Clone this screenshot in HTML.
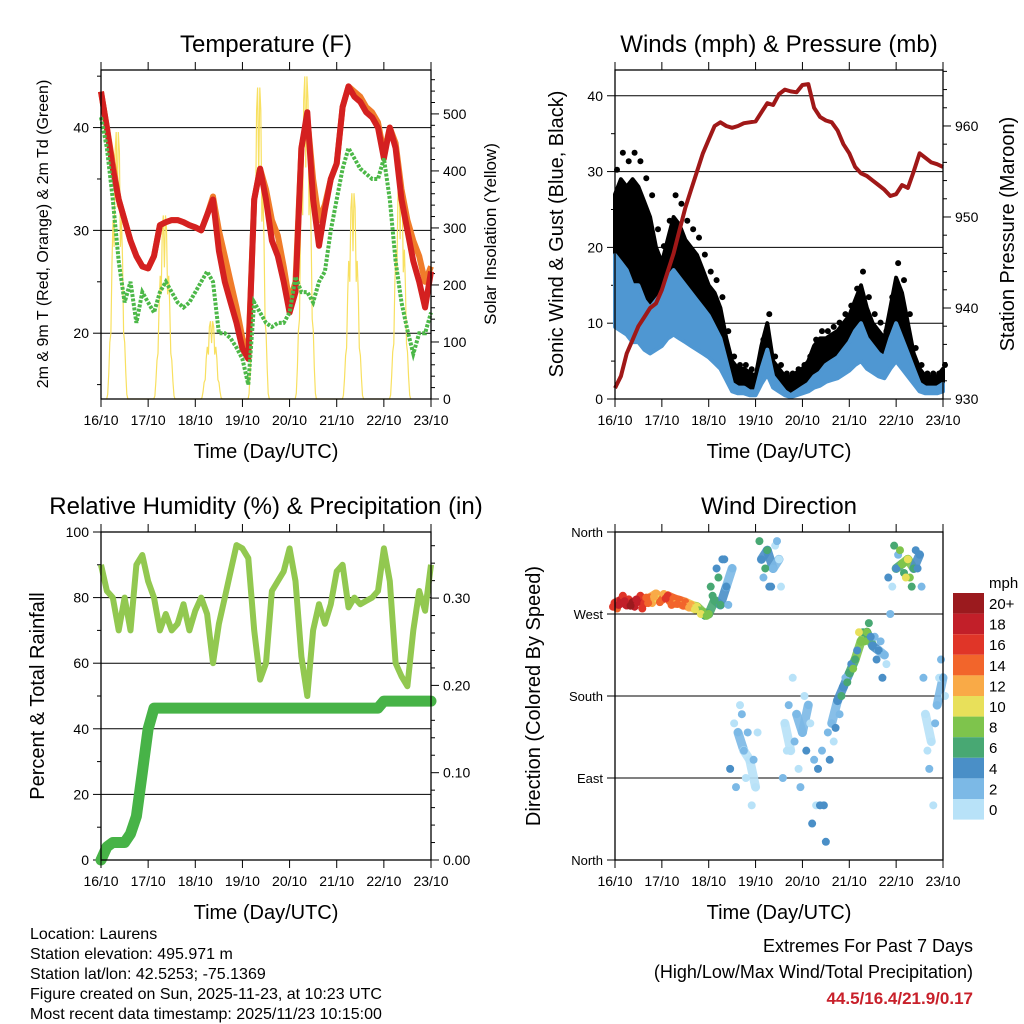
<!DOCTYPE html>
<html><head><meta charset="utf-8"><style>
html,body{margin:0;padding:0;background:#fff;}
svg{display:block;font-family:"Liberation Sans",sans-serif;}
</style></head><body>
<svg id="fig" width="1024" height="1024" viewBox="0 0 1024 1024" xmlns="http://www.w3.org/2000/svg">
<rect width="1024" height="1024" fill="#fff"/>
<g id="layer"></g>
<g font-size="16" fill="#000">
<text x="30" y="939">Location: Laurens</text>
<text x="30" y="959">Station elevation: 495.971 m</text>
<text x="30" y="979">Station lat/lon: 42.5253; -75.1369</text>
<text x="30" y="999">Figure created on Sun, 2025-11-23, at 10:23 UTC</text>
<text x="30" y="1019">Most recent data timestamp: 2025/11/23 10:15:00</text>
</g>
<g text-anchor="end">
<text x="973" y="952" font-size="18">Extremes For Past 7 Days</text>
<text x="973" y="978" font-size="18">(High/Low/Max Wind/Total Precipitation)</text>
<text x="973" y="1004" font-size="17" font-weight="bold" fill="#c8202a">44.5/16.4/21.9/0.17</text>
</g>
</svg>
<script>
// ---- data (3-hourly from 16/10 00 UTC to 23/10 00 UTC) ----
const dayLabels = ["16/10","17/10","18/10","19/10","20/10","21/10","22/10","23/10"];
const temp2m = [43.5,40,36,33,31,29,27.5,26.5,26.3,27.5,30.5,30.8,31,31,30.8,30.5,30.3,30,31.5,33,28,25,23,21,18.5,17.5,33,36,33,29,27.5,25,22,24,38,41.5,33,28.5,32,35,36.5,42,44,43,42.5,41.5,41,40,37,40,38,33,30,27,25,22.5,26];
const temp9m = [43.5,40,36.5,33,31,29,27.5,26.5,26.3,27.5,30.5,30.8,31,31,30.8,30.5,30.3,30,31.5,33.3,30,27.5,25,22.5,19.5,18,33,36,34,31,29.5,26.5,23,25,38,41,35,31,32.5,35,36.5,42,44,43.5,43,42,41.5,40.5,37.5,40,38.5,34,31,29,27.5,25,26.5];
const dewpoint = [41,38,33,27,23,25,21,24,23,22,24,25,24,23,22.5,23,24,25,26,25,20,20,19.5,18.6,17.5,15,23,22,21,20.6,21,21,22,25.5,24,24,23,25,26,30,33,36,38,37,36,35.5,35,35,37,33,27,23,20.3,18,20,20,22];
const solarPeaks = [480,330,140,560,580,370,400];
const gust = [27,29,28,29,28,26,24,20,18,21,24,23,21,20,19,17,15,14,12,8,5,4,4,3.5,3,7,10,5,4,3,3,3.5,4,5,7,8,8,8.5,9,10,11,13,15,12,10,9,8,12,16,14,10,6,4,3,3,3,4];
const wind = [19,18,17,15,15,13,12,13,14,16,17,16,15,14,13,12,11,9.5,8,5,2,1.5,1.5,1,1,4,6.5,3,2,1,0.5,1,1.5,2,3,3.5,4.5,5,5.5,6.5,7.5,9,10,8,7,6,5.5,8,10,8,6,4,2,1.5,1.5,1.5,2];
const pressure = [931.2,932.5,935,936.5,938,939,940,940.5,942,944,946,948.5,951,953,955,957,958.5,960,960.4,960,959.8,960,960.3,960.4,960.5,961.5,962.5,962.3,963.5,964,963.8,963.7,964.5,964.6,962,961,960.6,960.4,959.5,958,957,955.5,954.8,954.5,954,953.5,953,952.3,952.5,953.5,953.2,955,957,956.5,956,955.8,955.5];
const rh = [90,82,80,70,80,70,90,93,85,80,70,75,70,72,78,70,76,80,75,60,72,80,88,96,95,92,70,55,60,82,85,88,95,85,62,50,70,78,72,78,88,90,77,80,78,79,80,82,95,85,60,56,53,70,82,76,90];
const precip = [0,0.015,0.02,0.02,0.02,0.03,0.05,0.1,0.15,0.174,0.174,0.174,0.174,0.174,0.174,0.174,0.174,0.174,0.174,0.174,0.174,0.174,0.174,0.174,0.174,0.174,0.174,0.174,0.174,0.174,0.174,0.174,0.174,0.174,0.174,0.174,0.174,0.174,0.174,0.174,0.174,0.174,0.174,0.174,0.174,0.174,0.174,0.174,0.182,0.182,0.182,0.182,0.182,0.182,0.182,0.182,0.182];
const windDir = [282,285,280,283,284,282,288,292,286,290,287,285,283,280,278,272,270,285,280,300,320,140,120,110,80,330,340,320,330,150,120,160,140,170,110,60,20,150,175,190,205,220,240,250,235,230,225,270,320,325,330,320,335,160,130,170,200];
const windDir2 = [276,290,286,278,290,288,282,286,292,284,281,280,278,276,274,268,300,320,330,280,150,170,90,60,140,310,300,345,300,120,200,100,180,150,60,120,140,130,160,200,215,230,250,260,245,240,215,300,335,315,310,340,300,120,60,200,180];
const windDir3 = [278,280,284,279,286,276,282,289,283,287,280,281,279,277,275,270,268,290,310,330,100,80,160,140,110,350,320,300,350,90,170,130,80,120,40,100,60,110,145,180,195,210,250,240,245,220,200,310,345,340,310,300,320,200,100,150,220];
const windSpd = [16,18,18,20,18,16,14,12,14,16,14,14,14,12,10,9,8,6,6,4,3,2,2,1,1,5,6,3,1,1,1,2,2,3,3,4,4,3,4,5,6,7,9,8,4,4,3,3,5,8,10,6,4,1,1,2,2];
const speedBins = ["20+","18","16","14","12","10","8","6","4","2","0"];
const binColors = ["#9b1a1e","#c21f29","#e03528","#f2652b","#f9aa47","#e8e05a","#7ec44c","#48a873","#4a8fc7","#7cb9e6","#b8e2f8"];

const NS="http://www.w3.org/2000/svg";
const layer=document.getElementById('layer');
function mk(tag,attrs,parent){const e=document.createElementNS(NS,tag);for(const k in attrs)e.setAttribute(k,attrs[k]);(parent||layer).appendChild(e);return e;}
function txt(x,y,s,size,anchor,parent,rot){const t=mk('text',{x:x,y:y,'font-size':size,'text-anchor':anchor||'middle'},parent);if(rot)t.setAttribute('transform','rotate(-90 '+x+' '+y+')');t.textContent=s;return t;}

function panel(name,L,T,R,B){
  const g=mk('g',{});
  
  
  return {g:g,L:L,T:T,R:R,B:B,x:i=>L+(R-L)*i/56};
}
function frame(p,title){
  mk('rect',{x:p.L,y:p.T,width:p.R-p.L,height:p.B-p.T,fill:'none',stroke:'#000','stroke-width':1.3},p.g);
  for(let d=0;d<8;d++){const x=p.L+(p.R-p.L)*d/7;
    mk('line',{x1:x,y1:p.B,x2:x,y2:p.B+8,stroke:'#000'},p.g);
    mk('line',{x1:x,y1:p.T,x2:x,y2:p.T-8,stroke:'#000'},p.g);
    const t=txt(x,p.B+26,dayLabels[d],14,'middle',p.g);
    
    
  }
  const xt=txt((p.L+p.R)/2,p.B+59,'Time (Day/UTC)',20,'middle',p.g);
  
  
  const tt=txt((p.L+p.R)/2,p.T-18,title,24,'middle',p.g);
  
  
}
function yAxis(p,lo,hi,major,minor,fmt,side,gridlines){
  const y=v=>p.B-(v-lo)/(hi-lo)*(p.B-p.T);
  const X= side==='L'?p.L:p.R, dir= side==='L'?-1:1;
  for(let v=Math.ceil(lo/minor-1e-9)*minor; v<=hi+1e-9; v+=minor){
    const isMaj=Math.abs(v/major-Math.round(v/major))<1e-6;
    const yy=y(v);
    mk('line',{x1:X,y1:yy,x2:X+dir*(isMaj?8:4),y2:yy,stroke:'#000'},p.g);
    if(isMaj){
      const t=txt(X+dir*12,yy+5,fmt(v),14,side==='L'?'end':'start',p.g);
      
      
      if(gridlines) mk('line',{x1:p.L,y1:yy,x2:p.R,y2:yy,stroke:'#000','stroke-width':1},p.g);
    }
  }
  return y;
}
function pts(p,arr,yf){return arr.map((v,i)=>p.x(i).toFixed(1)+','+yf(v).toFixed(1)).join(' ');}

// ---------- Panel 1: Temperature ----------
const p1=panel('temperature-panel',101,70,431,399);
const tY=yAxis(p1,13.6,45.6,10,5,v=>v,'L',true);
const sY=yAxis(p1,0,577,100,20,v=>v,'R',false);
let sp=[];
for(let d=0;d<solarPeaks.length;d++){
  const start=p1.L+(p1.R-p1.L)*(d+0.12)/7, w=(p1.R-p1.L)/7*0.45;
  sp.push(start.toFixed(1)+','+sY(0));
  for(let k=1;k<20;k++){const f=k/20;sp.push((start+w*f).toFixed(1)+','+sY(solarPeaks[d]*Math.pow(Math.sin(Math.PI*f),2)*(k%3===1?0.7:1)).toFixed(1));}
  sp.push((start+w).toFixed(1)+','+sY(0));
}
const sl=mk('polyline',{points:sp.join(' '),fill:'none',stroke:'#f8e060','stroke-width':1.2},p1.g);


const l9=mk('polyline',{points:pts(p1,temp9m,tY),fill:'none',stroke:'#f07c2a','stroke-width':6,'stroke-linejoin':'round'},p1.g);


const l2=mk('polyline',{points:pts(p1,temp2m,tY),fill:'none',stroke:'#d42020','stroke-width':6,'stroke-linejoin':'round'},p1.g);


const ld=mk('polyline',{points:pts(p1,dewpoint,tY),fill:'none',stroke:'#4cb848','stroke-width':4,'stroke-dasharray':'3 1.5'},p1.g);


frame(p1,'Temperature (F)');
let a=txt(48,234,'2m & 9m T (Red, Orange) & 2m Td (Green)',16,'middle',p1.g,true);


a=txt(496,234,'Solar Insolation (Yellow)',17,'middle',p1.g,true);



// ---------- Panel 2: Winds ----------
const p2=panel('winds-panel',615,70,943,399);
const wY=yAxis(p2,0,43.4,10,5,v=>v,'L',true);
const pY=yAxis(p2,930,966.15,10,2,v=>v,'R',false);
let band=pts(p2,gust,wY)+' '+wind.map((v,i)=>p2.x(i).toFixed(1)+','+wY(v).toFixed(1)).reverse().join(' ');
const gb=mk('polygon',{points:band,fill:'#000',stroke:'#000','stroke-width':4,'stroke-linejoin':'round'},p2.g);


gust.forEach((v,i)=>{const c=mk('circle',{cx:p2.x(i)+2,cy:wY(v*1.12),r:3,fill:'#000'},p2.g);
  
  });
let wb=pts(p2,wind,wY)+' '+wind.map((v,i)=>p2.x(i).toFixed(1)+','+wY(Math.max(0,v*0.5)).toFixed(1)).reverse().join(' ');
const bb=mk('polygon',{points:wb,fill:'#4f97d2',stroke:'#4f97d2','stroke-width':4,'stroke-linejoin':'round'},p2.g);


const pl=mk('polyline',{points:pts(p2,pressure,pY),fill:'none',stroke:'#a01818','stroke-width':4,'stroke-linejoin':'round'},p2.g);


frame(p2,'Winds (mph) & Pressure (mb)');
a=txt(563,234,'Sonic Wind & Gust (Blue, Black)',20,'middle',p2.g,true);


a=txt(1014,234,'Station Pressure (Maroon)',20,'middle',p2.g,true);



// ---------- Panel 3: RH & precip ----------
const p3=panel('humidity-panel',101,532,431,860);
const rY=yAxis(p3,0,100,20,10,v=>v,'L',true);
const qY=yAxis(p3,0,0.3757,0.1,0.02,v=>v.toFixed(2),'R',false);
const rl=mk('polyline',{points:pts(p3,rh,rY),fill:'none',stroke:'#92c850','stroke-width':6,'stroke-linejoin':'round'},p3.g);


const ql=mk('polyline',{points:pts(p3,precip,qY),fill:'none',stroke:'#47b347','stroke-width':11,'stroke-linejoin':'round','stroke-linecap':'round'},p3.g);


frame(p3,'Relative Humidity (%) & Precipitation (in)');
a=txt(44,696,'Percent & Total Rainfall',20,'middle',p3.g,true);



// ---------- Panel 4: Wind direction ----------
const p4=panel('wind-direction-panel',615,532,943,860);
const dY=v=>p4.B-v/360*(p4.B-p4.T);
const dirLabels=["North","East","South","West","North"];
for(let k=0;k<5;k++){const yy=dY(k*90);
  mk('line',{x1:p4.L,y1:yy,x2:p4.L-8,y2:yy,stroke:'#000'},p4.g);
  if(k>0&&k<4) mk('line',{x1:p4.L,y1:yy,x2:p4.R,y2:yy,stroke:'#000'},p4.g);
  const t=txt(p4.L-12,yy+5,dirLabels[k],13,'end',p4.g);
  
  
}
function binColor(s){let idx=10-Math.min(10,Math.floor(s/2));return binColors[idx];}
for(let i=0;i<56;i++){
  if(Math.abs(windDir[i]-windDir[i+1])<40){
    const s=mk('line',{x1:p4.x(i),y1:dY(windDir[i]),x2:p4.x(i+1),y2:dY(windDir[i+1]),stroke:binColor((windSpd[i]+windSpd[i+1])/2),'stroke-width':9,'stroke-linecap':'round',opacity:0.9},p4.g);
    
    
  }
}
windDir.forEach((v,i)=>{
  const c=mk('circle',{cx:p4.x(i),cy:dY(v),r:4,fill:binColor(windSpd[i])},p4.g);
  
  
  const c2=mk('circle',{cx:p4.x(i)+2,cy:dY(windDir2[i]),r:4,fill:binColor(Math.max(0,windSpd[i]-2))},p4.g);
  
  
  const c3=mk('circle',{cx:p4.x(i)-2,cy:dY(windDir3[i]),r:4,fill:binColor(windSpd[i]+1)},p4.g);
  
  
});
frame(p4,'Wind Direction');
a=txt(540,696,'Direction (Colored By Speed)',20,'middle',p4.g,true);


const cb=mk('g',{});


speedBins.forEach((lab,k)=>{
  const y0=593+k*20.6;
  const r=mk('rect',{x:953,y:y0,width:31,height:20.6,fill:binColors[k]},cb);
  
  
  const t=txt(989,y0+16,lab,15,'start',cb);
  
  
});
a=txt(989,588,'mph',15,'start',cb);


</script>
</body></html>
